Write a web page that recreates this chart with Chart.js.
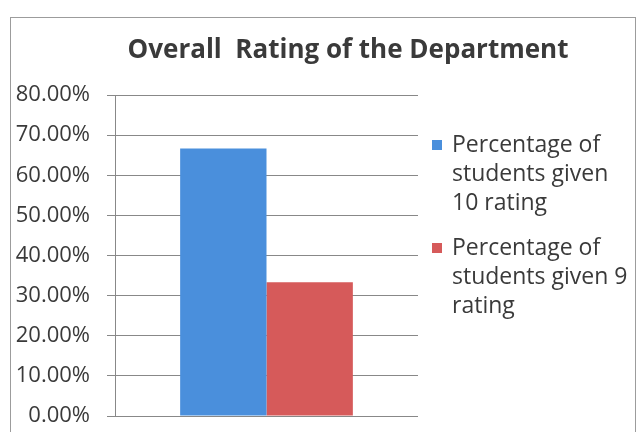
<!DOCTYPE html>
<html>
<head>
<meta charset="utf-8">
<script src="https://cdn.jsdelivr.net/npm/chart.js@4/dist/chart.umd.min.js"></script>
<style>
    html, body { margin: 0; padding: 0; background: #fff; }
    #contenedor { position: relative; width: 639px; height: 432px; overflow: hidden; }
    #marco { position: absolute; left: 10px; top: 17px; width: 626px; height: 440px; border: 1px solid #9c9c9c; box-sizing: border-box; }
    #grafica { position: absolute; left: 0; top: 0; }
</style>
</head>
<body>
<div id="contenedor">
    <div id="marco"></div>
    <canvas id="grafica" width="639" height="432"></canvas>
</div>
<script>
// DATOS
const titulo = "Overall  Rating of the Department";
const categorias = [""];
const valoresDiez = [66.67];
const valoresNueve = [33.33];
const etiquetaDiez = ["Percentage of", "students given", "10 rating"];
const etiquetaNueve = ["Percentage of", "students given 9", "rating"];
const colores = ["#4a8fdc", "#d65a5a"];
const ejeMin = 0;
const ejeMax = 80;
const ejePaso = 10;

const colorTexto = "#3a3a3a";
const fuente = "'Open Sans', 'Liberation Sans', sans-serif";

// TITULO Y LEYENDA DIBUJADOS A MANO
const pluginTextos = {
    id: "textos",
    afterDraw(chart) {
        const ctx = chart.ctx;
        ctx.save();
        ctx.fillStyle = colorTexto;
        ctx.textBaseline = "middle";

        ctx.font = "bold 26px " + fuente;
        ctx.textAlign = "center";
        ctx.fillText(titulo, 348, 51);

        ctx.font = "23px " + fuente;
        ctx.textAlign = "left";
        const bloques = [145, 248];
        chart.data.datasets.forEach((ds, i) => {
            const y0 = bloques[i];
            ctx.fillStyle = ds.backgroundColor;
            ctx.fillRect(432, y0 - 5, 10, 10);
            ctx.fillStyle = colorTexto;
            ds.label.forEach((linea, j) => {
                ctx.fillText(linea, 452, y0 + j * 29);
            });
        });
        ctx.restore();
    }
};

const lienzo = document.getElementById("grafica");

new Chart(lienzo, {
    type: "bar",
    data: {
        labels: categorias,
        datasets: [
            { label: etiquetaDiez, data: valoresDiez, backgroundColor: colores[0] },
            { label: etiquetaNueve, data: valoresNueve, backgroundColor: colores[1] }
        ]
    },
    options: {
        responsive: false,
        animation: false,
        events: [],
        layout: { padding: { top: 95, right: 221, bottom: 16, left: 0 } },
        datasets: { bar: { barPercentage: 1, categoryPercentage: 0.57 } },
        plugins: {
            legend: { display: false },
            title: { display: false },
            tooltip: { enabled: false }
        },
        scales: {
            x: { display: false },
            y: {
                min: ejeMin,
                max: ejeMax,
                ticks: {
                    stepSize: ejePaso,
                    padding: 17,
                    color: colorTexto,
                    font: { family: fuente, size: 22 },
                    callback: v => v.toFixed(2) + "%"
                },
                grid: { color: "#888888", lineWidth: 1, tickLength: 8 },
                border: { display: true, color: "#888888" },
                afterFit(scale) {
                    scale.width = 115;
                    scale.paddingTop = 0;
                    scale.paddingBottom = 0;
                }
            }
        }
    },
    plugins: [pluginTextos]
});
</script>
</body>
</html>
